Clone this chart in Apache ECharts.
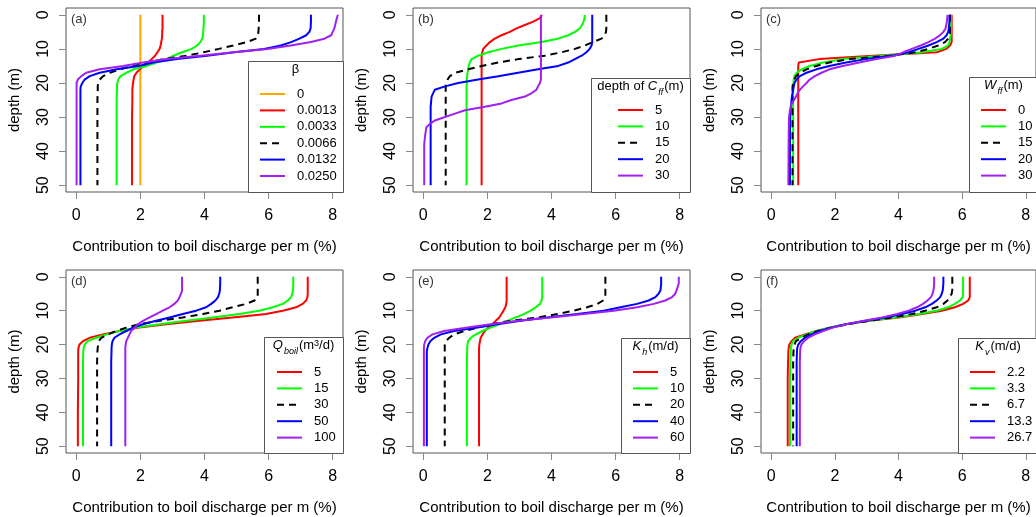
<!DOCTYPE html>
<html>
<head>
<meta charset="utf-8">
<script src="https://cdn.jsdelivr.net/npm/echarts@6/dist/echarts.min.js"></script>
<style>
html,body{margin:0;padding:0;background:#fff;}
#chart{width:1036px;height:517px;}
</style>
</head>
<body>
<div id="chart"></div>
<script>
// ---------------- DATA ----------------
const xTicks = [0, 2, 4, 6, 8];
const yTicks = [0, 10, 20, 30, 40, 50];

const depthStd = [0, 2, 4, 5, 6, 7, 8, 9, 10, 11, 12, 13, 14, 15, 16, 17, 18, 19, 20, 21, 22, 25, 30, 40, 50];
const depthB = [0, 1, 2, 3, 4, 5, 6, 7, 8, 9, 10, 11, 12, 13, 14, 15, 16, 17, 18, 19, 20, 21, 22, 23, 24, 25, 26, 27, 28, 29, 30, 31, 32, 33, 34, 36, 38, 50];
const depthC = [0, 2, 4, 5, 6, 7, 8, 9, 10, 11, 12, 13, 14, 15, 16, 17, 18, 19, 20, 21, 22, 23, 24, 25, 26, 28, 30, 35, 50];

// (a) beta
const betaLabels = ['0', '0.0013', '0.0033', '0.0066', '0.0132', '0.0250'];
const betaVals = [
  [2,2,2,2,2,2,2,2,2,2,2,2,2,2,2,2,2,2,2,2,2,2,2,2,2],
  [2.69,2.69,2.69,2.68,2.68,2.67,2.65,2.63,2.6,2.53,2.46,2.35,2.25,2.1,1.98,1.88,1.81,1.79,1.77,1.76,1.75,1.75,1.74,1.74,1.74],
  [3.98,3.98,3.97,3.96,3.95,3.93,3.87,3.77,3.6,3.3,3.03,2.82,2.5,2.2,1.78,1.57,1.38,1.31,1.28,1.27,1.27,1.26,1.26,1.26,1.26],
  [5.7,5.7,5.69,5.68,5.67,5.6,5.33,4.9,4.45,3.97,3.45,2.72,2.2,1.78,1.36,1.05,0.84,0.73,0.68,0.67,0.67,0.66,0.66,0.66,0.66],
  [7.32,7.32,7.31,7.27,7.17,6.96,6.7,6.38,5.86,4.92,4.08,3.14,2.4,1.95,1.26,0.73,0.42,0.26,0.19,0.14,0.13,0.13,0.13,0.13,0.13],
  [8.16,8.1,8.05,8.0,7.95,7.74,7.32,6.69,5.96,4.92,3.87,2.82,2.09,1.46,0.73,0.31,0.16,0.05,0.01,0.01,0.01,0.01,0.01,0.01,0.01]
];

// (b) depth of C_ff
const cffLabels = ['5', '10', '15', '20', '30'];
const cffVals = [
  [3.69,3.64,3.43,3.17,2.91,2.7,2.44,2.23,2.08,1.97,1.87,1.84,1.82,1.82,1.82,1.82,1.82,1.82,1.82,1.82,1.82,1.82,1.82,1.82,1.82,1.82,1.82,1.82,1.82,1.82,1.82,1.82,1.82,1.82,1.82,1.82,1.82,1.82],
  [5.04,5.03,5.0,4.95,4.88,4.73,4.52,4.2,3.69,2.96,2.44,2.03,1.71,1.51,1.45,1.42,1.4,1.38,1.37,1.36,1.36,1.35,1.35,1.35,1.35,1.35,1.35,1.35,1.35,1.35,1.35,1.35,1.35,1.35,1.35,1.35,1.35,1.35],
  [5.71,5.71,5.71,5.71,5.71,5.7,5.66,5.56,5.3,5.04,4.73,4.31,3.79,2.96,2.34,1.82,1.4,0.99,0.83,0.76,0.72,0.7,0.7,0.7,0.7,0.7,0.7,0.7,0.7,0.7,0.7,0.7,0.7,0.7,0.7,0.7,0.7,0.7],
  [5.27,5.27,5.27,5.27,5.27,5.27,5.27,5.27,5.27,5.25,5.19,5.09,4.94,4.73,4.52,4.21,3.58,2.96,2.34,1.71,1.09,0.68,0.36,0.31,0.26,0.25,0.24,0.23,0.23,0.23,0.23,0.23,0.23,0.23,0.23,0.23,0.23,0.23],
  [3.69,3.67,3.67,3.67,3.67,3.67,3.67,3.67,3.67,3.67,3.67,3.67,3.67,3.67,3.67,3.67,3.67,3.67,3.67,3.67,3.64,3.58,3.53,3.38,3.17,2.75,2.44,1.92,1.3,0.99,0.68,0.36,0.21,0.1,0.08,0.05,0.03,0.03]
];

// (c) W_ff
const wffLabels = ['0', '10', '15', '20', '30'];
const wffVals = [
  [5.67,5.67,5.67,5.67,5.67,5.67,5.67,5.62,5.5,5.2,3.2,1.5,0.87,0.85,0.85,0.85,0.85,0.85,0.85,0.85,0.85,0.85,0.85,0.85,0.85,0.85,0.85,0.85,0.85],
  [5.65,5.65,5.65,5.65,5.64,5.62,5.6,5.56,5.36,4.74,3.49,2.25,1.63,1.21,0.95,0.8,0.73,0.71,0.7,0.69,0.69,0.69,0.69,0.69,0.69,0.69,0.69,0.69,0.69],
  [5.62,5.62,5.62,5.62,5.6,5.56,5.46,5.25,4.94,4.53,3.7,2.46,1.83,1.42,1.11,0.9,0.78,0.73,0.69,0.67,0.67,0.67,0.67,0.67,0.67,0.67,0.67,0.67,0.67],
  [5.6,5.6,5.58,5.56,5.51,5.41,5.2,4.94,4.63,4.32,3.8,2.97,2.35,1.83,1.42,1.11,0.9,0.8,0.73,0.71,0.69,0.67,0.65,0.64,0.63,0.61,0.6,0.59,0.59],
  [5.54,5.52,5.48,5.41,5.3,5.15,4.94,4.7,4.42,4.15,3.9,3.3,2.77,2.25,1.83,1.58,1.37,1.21,1.11,1.0,0.9,0.83,0.78,0.72,0.64,0.59,0.56,0.55,0.54]
];

// (d) Q_boil
const qLabels = ['5', '15', '30', '50', '100'];
const qVals = [
  [7.22,7.22,7.22,7.22,7.21,7.17,7.06,6.86,6.44,5.92,4.88,3.84,2.8,1.97,1.35,0.83,0.42,0.21,0.1,0.07,0.06,0.06,0.06,0.05,0.05],
  [6.77,6.77,6.76,6.74,6.7,6.6,6.44,6.13,5.71,5.09,4.26,3.43,2.6,1.87,1.35,0.94,0.62,0.36,0.26,0.23,0.22,0.21,0.21,0.21,0.21],
  [5.66,5.66,5.66,5.66,5.66,5.56,5.3,4.88,4.47,3.95,3.32,2.6,1.97,1.56,1.25,0.99,0.78,0.7,0.68,0.67,0.66,0.65,0.65,0.65,0.65],
  [4.49,4.49,4.48,4.46,4.42,4.34,4.21,4.05,3.74,3.32,2.91,2.49,2.08,1.77,1.56,1.35,1.19,1.13,1.11,1.1,1.1,1.09,1.09,1.09,1.09],
  [3.3,3.3,3.3,3.27,3.22,3.17,3.06,2.91,2.7,2.49,2.29,2.08,1.92,1.82,1.71,1.66,1.61,1.56,1.54,1.53,1.53,1.53,1.53,1.53,1.53]
];

// (e) K_h
const khLabels = ['5', '10', '20', '40', '60'];
const khVals = [
  [2.6,2.6,2.6,2.6,2.6,2.6,2.59,2.56,2.5,2.44,2.37,2.26,2.16,2.02,1.92,1.85,1.79,1.77,1.75,1.74,1.74,1.74,1.74,1.74,1.74],
  [3.71,3.71,3.71,3.71,3.71,3.69,3.64,3.51,3.35,3.14,2.88,2.62,2.37,2.1,1.85,1.64,1.48,1.4,1.38,1.37,1.37,1.36,1.36,1.36,1.36],
  [5.68,5.68,5.68,5.68,5.68,5.61,5.43,5.11,4.7,4.18,3.56,2.73,2.1,1.69,1.28,0.96,0.81,0.71,0.67,0.67,0.67,0.67,0.67,0.67,0.67],
  [7.42,7.42,7.4,7.34,7.24,7.03,6.67,6.15,5.63,4.8,3.87,3.04,2.31,1.69,0.96,0.55,0.34,0.22,0.16,0.13,0.11,0.11,0.11,0.11,0.11],
  [7.97,7.97,7.9,7.86,7.76,7.55,7.19,6.67,5.94,5.01,3.97,2.94,2.1,1.38,0.65,0.29,0.13,0.06,0.03,0.02,0.02,0.02,0.02,0.02,0.02]
];

// (f) K_v
const kvLabels = ['2.2', '3.3', '6.7', '13.3', '26.7'];
const kvVals = [
  [6.24,6.24,6.24,6.24,6.24,6.19,6.03,5.77,5.36,4.74,4.01,3.08,2.35,1.83,1.42,1.06,0.75,0.64,0.57,0.55,0.54,0.53,0.52,0.52,0.52],
  [6.03,6.03,6.03,6.03,6.02,5.93,5.77,5.56,5.2,4.63,3.91,3.08,2.35,1.83,1.42,1.11,0.85,0.69,0.64,0.62,0.61,0.6,0.59,0.59,0.59],
  [5.69,5.69,5.69,5.67,5.62,5.54,5.41,5.2,4.84,4.42,3.8,3.08,2.4,1.89,1.47,1.16,0.95,0.78,0.73,0.71,0.7,0.69,0.69,0.69,0.69],
  [5.41,5.41,5.39,5.36,5.31,5.2,5.05,4.84,4.53,4.11,3.6,2.97,2.35,1.89,1.52,1.26,1.06,0.93,0.85,0.82,0.81,0.8,0.8,0.8,0.8],
  [5.12,5.12,5.1,5.07,5.02,4.91,4.77,4.58,4.32,3.96,3.49,2.92,2.35,1.94,1.63,1.37,1.16,1.03,0.95,0.92,0.91,0.9,0.9,0.9,0.9]
];

const xTitle = 'Contribution to boil discharge per m (%)';
const yTitle = 'depth (m)';

// ---------------- STYLE / LAYOUT ----------------
const FONT = '"Liberation Sans", Arial, sans-serif';
const colors6 = ['#FFA500', '#FF0000', '#00FF00', '#000000', '#0000FF', '#A020F0'];
const colors5 = ['#FF0000', '#00FF00', '#000000', '#0000FF', '#A020F0'];

const colLeft = [66, 413, 761];
const rowTop = [8, 270];
const rowH = [184, 183];
const gridW = 277;

const panels = [
  {key: 'a', depth: depthStd, labels: betaLabels, vals: betaVals, colors: colors6, dash: 3,
   col: 0, row: 0, box: [248, 61], legend: [260, 86],
   title: '{n|β}'},
  {key: 'b', depth: depthB, labels: cffLabels, vals: cffVals, colors: colors5, dash: 2,
   col: 1, row: 0, box: [591, 78], legend: [618, 102],
   title: '{n|depth of }{i|C}{s|ff}{n|(m)}'},
  {key: 'c', depth: depthC, labels: wffLabels, vals: wffVals, colors: colors5, dash: 2,
   col: 2, row: 0, box: [969, 77], legend: [981, 102],
   title: '{i|W}{s|ff}{n|(m)}'},
  {key: 'd', depth: depthStd, labels: qLabels, vals: qVals, colors: colors5, dash: 2,
   col: 0, row: 1, box: [264, 337], legend: [277, 364],
   title: '{i|Q}{s|boil}{n|(m}{p|3}{n|/d)}'},
  {key: 'e', depth: depthStd, labels: khLabels, vals: khVals, colors: colors5, dash: 2,
   col: 1, row: 1, box: [621, 338], legend: [633, 364],
   title: '{i|K}{s|h}{n|(m/d)}'},
  {key: 'f', depth: depthStd, labels: kvLabels, vals: kvVals, colors: colors5, dash: 2,
   col: 2, row: 1, box: [958, 338], legend: [970, 364],
   title: '{i|K}{s|v}{n|(m/d)}'}
];

const solidIcon = 'path://M0,0H25V2H0ZM32,1';
const dashIcon = 'path://M0,0H7V2H0ZM12,0H19V2H12ZM32,1';

const grid = [], xAxis = [], yAxis = [], series = [], legend = [], graphic = [];

panels.forEach((p, k) => {
  const left = colLeft[p.col], top = rowTop[p.row], h = rowH[p.row];
  grid.push({left: left, top: top, width: gridW, height: h, show: true,
    borderColor: '#555', borderWidth: 1, backgroundColor: 'transparent', containLabel: false});
  xAxis.push({type: 'value', gridIndex: k, min: -0.32, max: 8.32, position: 'bottom',
    axisLine: {show: false, onZero: false},
    axisTick: {show: true, customValues: xTicks, length: 7, lineStyle: {color: '#888', width: 1}},
    axisLabel: {customValues: xTicks, fontSize: 16, fontFamily: FONT, color: '#000', margin: 16},
    splitLine: {show: false},
    name: xTitle, nameLocation: 'middle', nameGap: 47,
    nameTextStyle: {fontSize: 15, fontFamily: FONT, color: '#000'}});
  yAxis.push({type: 'value', gridIndex: k, min: -2, max: 52, inverse: true, position: 'left',
    axisLine: {show: false, onZero: false},
    axisTick: {show: true, customValues: yTicks, length: 7, lineStyle: {color: '#888', width: 1}},
    axisLabel: {customValues: yTicks, fontSize: 16, fontFamily: FONT, color: '#000', margin: 14, rotate: 90},
    splitLine: {show: false},
    name: yTitle, nameLocation: 'middle', nameGap: 44,
    nameTextStyle: {fontSize: 15, fontFamily: FONT, color: '#000'}});

  p.labels.forEach((lab, i) => {
    const color = p.colors[i];
    const dashed = i === p.dash;
    series.push({
      type: 'line', name: lab + '|' + p.key, xAxisIndex: k, yAxisIndex: k,
      data: p.vals[i].map((v, j) => [v, p.depth[j]]),
      symbol: 'none', showSymbol: false, animation: false, silent: true,
      itemStyle: {color: color},
      lineStyle: {color: color, width: 2, type: dashed ? [7, 5] : 'solid'},
      z: 3
    });
  });

  legend.push({
    orient: 'vertical', left: p.legend[0], top: p.legend[1], padding: 0,
    itemWidth: 32, itemHeight: 2, itemGap: 0.4,
    selectedMode: false,
    data: p.labels.map((lab, i) => ({name: lab + '|' + p.key, icon: i === p.dash ? dashIcon : solidIcon})),
    formatter: n => n.split('|')[0],
    textStyle: {fontSize: 13, fontFamily: FONT, color: '#000', lineHeight: 16}
  });

  const boxRight = left + gridW, boxBottom = top + h;
  graphic.push({type: 'rect', z: 1,
    shape: {x: p.box[0] + 0.5, y: p.box[1] + 0.5, width: boxRight - p.box[0], height: boxBottom - p.box[1]},
    style: {fill: '#fff', stroke: '#555', lineWidth: 1}});
  graphic.push({type: 'text', z: 5,
    x: (p.box[0] + boxRight) / 2, y: p.box[1] + 2,
    style: {text: p.title, align: 'center', verticalAlign: 'top', fill: '#000',
      font: '13px ' + FONT,
      rich: {
        n: {fontSize: 13, fontFamily: FONT, fill: '#000', verticalAlign: 'top', lineHeight: 16},
        i: {fontSize: 13, fontFamily: FONT, fontStyle: 'italic', fill: '#000', verticalAlign: 'top', lineHeight: 16},
        s: {fontSize: 9, fontFamily: FONT, fontStyle: 'italic', fill: '#000', verticalAlign: 'top', padding: [8, 1, 0, 1], lineHeight: 9},
        p: {fontSize: 9, fontFamily: FONT, fill: '#000', verticalAlign: 'top', padding: [0, 0, 0, 0], lineHeight: 9}
      }}});
  graphic.push({type: 'text', z: 5, x: left + 5, y: top + 11,
    style: {text: '(' + p.key + ')', font: '13px ' + FONT, fill: '#333', align: 'left', verticalAlign: 'middle'}});
});

const chart = echarts.init(document.getElementById('chart'), null, {renderer: 'canvas'});
chart.setOption({
  backgroundColor: '#fff',
  animation: false,
  grid: grid, xAxis: xAxis, yAxis: yAxis, series: series, legend: legend, graphic: graphic
});
</script>
</body>
</html>
